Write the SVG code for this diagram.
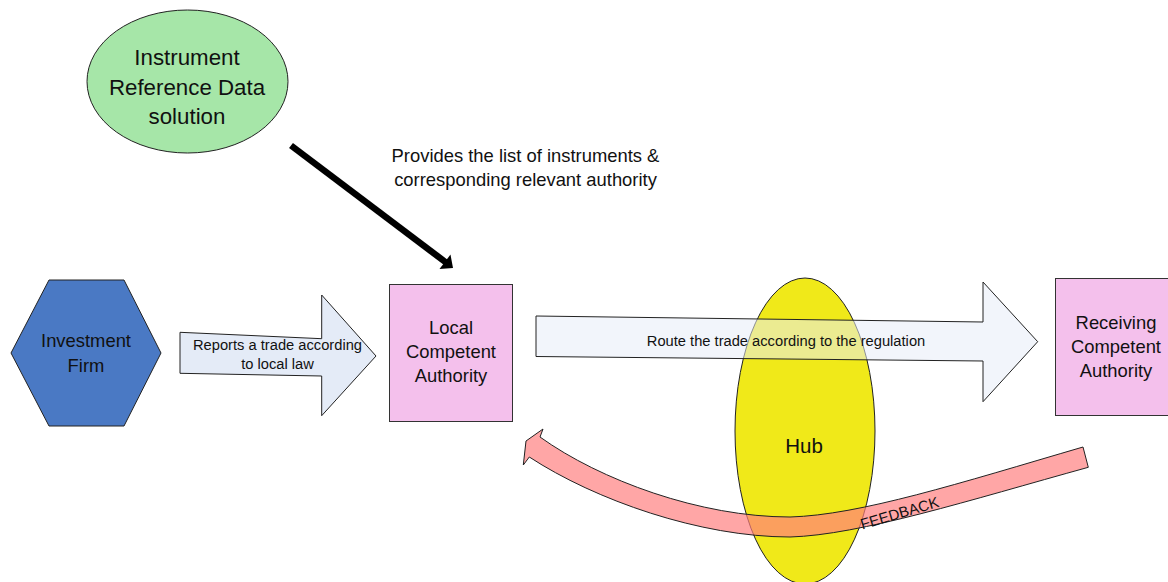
<svg xmlns="http://www.w3.org/2000/svg" width="1168" height="582" viewBox="0 0 1168 582">
<style>
text{font-family:"Liberation Sans",Arial,sans-serif;fill:#111;text-anchor:middle}
.n18{font-size:18.4px}
.n22{font-size:22.3px}
.lbl{font-size:14.7px}
.box{fill:#f4c0ec;stroke:#333;stroke-width:1}
.outline{stroke:#222;stroke-width:1;stroke-linejoin:miter}
</style>
<rect width="1168" height="582" fill="#fff"/>

<g id="node-irds">
<ellipse cx="187.5" cy="81.5" rx="100.5" ry="71.5" fill="#a6e6a8" class="outline"/>
<text class="n22" x="187" y="65">Instrument</text>
<text class="n22" x="187" y="94.5">Reference Data</text>
<text class="n22" x="187" y="123.5">solution</text>
</g>

<g id="node-investment-firm">
<polygon points="11,353 49,280 124,280 161,353 124,426 49,426" fill="#4a79c4" class="outline"/>
<text class="n18" x="86" y="346.5">Investment</text>
<text class="n18" x="86" y="371.5">Firm</text>
</g>

<g id="node-lca">
<rect class="box" x="389.5" y="284.5" width="123" height="137"/>
<text class="n18" x="451" y="333.5">Local</text>
<text class="n18" x="451" y="358">Competent</text>
<text class="n18" x="451" y="382">Authority</text>
</g>

<g id="node-rca">
<rect class="box" x="1055.5" y="278.5" width="122" height="137"/>
<text class="n18" x="1116" y="328.5">Receiving</text>
<text class="n18" x="1116" y="352.7">Competent</text>
<text class="n18" x="1116" y="376.5">Authority</text>
</g>

<g id="node-hub">
<ellipse cx="805" cy="431" rx="70" ry="153" fill="#f0e919" class="outline"/>
<text x="804" y="453" style="font-size:20.5px">Hub</text>
</g>

<g id="connectors">
<g id="conn-provides">
<line x1="291" y1="145.5" x2="446" y2="262.5" stroke="#000" stroke-width="6.5"/>
<polygon points="453,268 450.5,254.5 439.5,269" fill="#000"/>
<text class="n18" x="525.5" y="161.5">Provides the list of instruments &amp;</text>
<text class="n18" x="525.5" y="185.5">corresponding relevant authority</text>
</g>
<g id="conn-reports">
<polygon points="180,332.3 321.7,338.7 321.7,295 376,356 321.7,415.7 321.7,376 180,373.3" fill="#e4ebf7" class="outline"/>
<text class="lbl" x="277.5" y="349.5">Reports a trade according</text>
<text class="lbl" x="277.5" y="368.5">to local law</text>
</g>
<g id="conn-route">
<polygon points="536,316 983,322 983,282 1037.7,341.7 983,401.7 983,361 536,356.5" fill="rgb(231,236,247)" fill-opacity="0.54" class="outline"/>
<text class="lbl" x="786" y="345.5">Route the trade according to the regulation</text>
</g>
<g id="conn-feedback">
<path d="M1083,447 C960,483 860,515 790,517 C700,517 600,480 540,437 L543,429 L526,441 L523.3,465 L529.3,457 C595,500 700,537 790,537 C860,535 970,500 1088.3,467.3 Z" fill="rgb(255,126,126)" fill-opacity="0.69" class="outline"/>
<text x="901" y="518" transform="rotate(-16.5 901 518)" style="font-size:15px">FEEDBACK</text>
</g>
</g>
</svg>
